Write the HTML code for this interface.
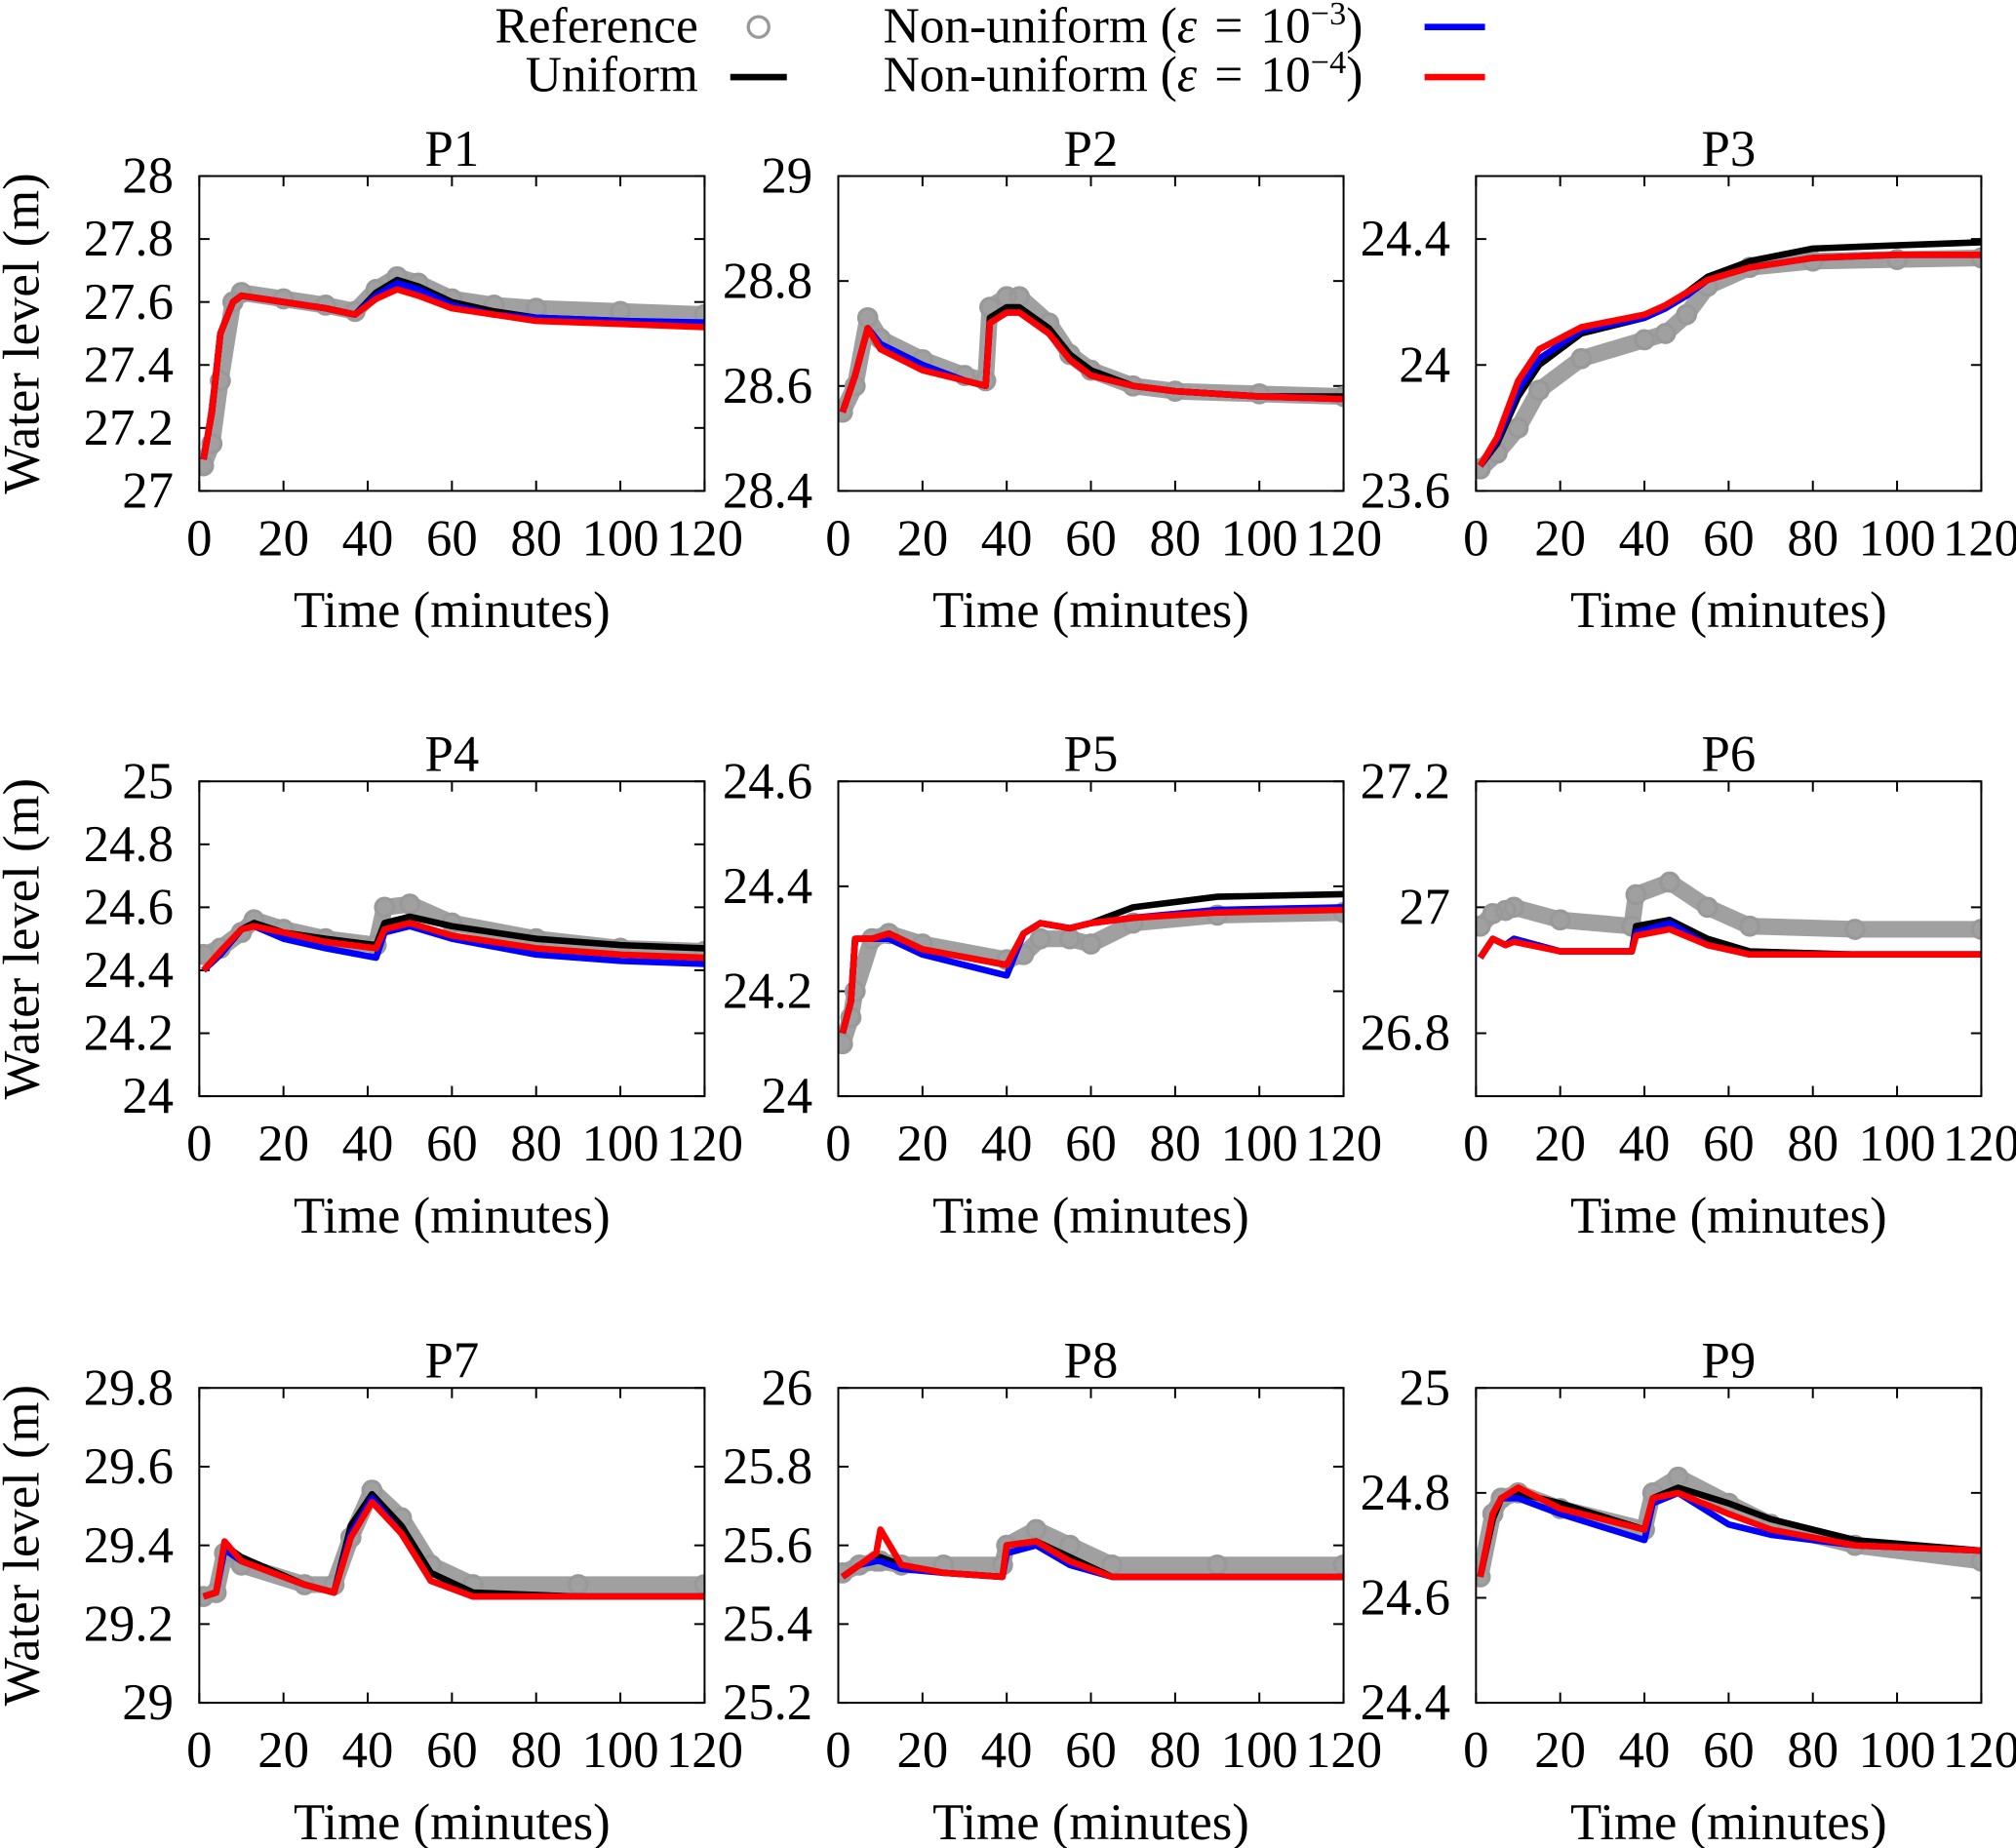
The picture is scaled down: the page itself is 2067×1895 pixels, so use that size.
<!DOCTYPE html>
<html><head><meta charset="utf-8"><style>
html,body{margin:0;padding:0;background:#fff}
svg{display:block}
text{font-family:"Liberation Serif",serif;fill:#000}
</style></head><body>
<svg id="chart" width="2067" height="1895" viewBox="0 0 1568 1438" preserveAspectRatio="none" xmlns="http://www.w3.org/2000/svg">
<g id="legend">
 <text x="543" y="33" text-anchor="end" font-size="39">Reference</text>
 <circle cx="590" cy="21" r="8" fill="none" stroke="#999" stroke-width="2.5"/>
 <text x="543" y="71" text-anchor="end" font-size="39">Uniform</text>
 <line x1="568" y1="60" x2="612" y2="60" stroke="#000" stroke-width="5"/>
 <text x="687" y="33" font-size="39">Non-uniform (<tspan font-style="italic">ε</tspan> <tspan dx="4">=</tspan> <tspan dx="4">10</tspan><tspan dy="-14" font-size="26">−3</tspan><tspan dy="14">)</tspan></text>
 <line x1="1108" y1="21" x2="1155" y2="21" stroke="#0000ff" stroke-width="5"/>
 <text x="687" y="71" font-size="39">Non-uniform (<tspan font-style="italic">ε</tspan> <tspan dx="4">=</tspan> <tspan dx="4">10</tspan><tspan dy="-14" font-size="26">−4</tspan><tspan dy="14">)</tspan></text>
 <line x1="1108" y1="60" x2="1155" y2="60" stroke="#ff0000" stroke-width="5"/>
</g>
</svg>
<script>
// ---- data ----
const panelNames = ["P1","P2","P3","P4","P5","P6","P7","P8","P9"];
const yMins = [27,28.4,23.6,24,24,26.7,29,25.2,24.4];
const yMaxs = [28,29,24.6,25,24.6,27.2,29.8,26,25];
const yTickLabels = [
 ["27","27.2","27.4","27.6","27.8","28"],
 ["28.4","28.6","28.8","29"],
 ["23.6","24","24.4"],
 ["24","24.2","24.4","24.6","24.8","25"],
 ["24","24.2","24.4","24.6"],
 ["26.8","27","27.2"],
 ["29","29.2","29.4","29.6","29.8"],
 ["25.2","25.4","25.6","25.8","26"],
 ["24.4","24.6","24.8","25"]
];
const xTickLabels = ["0","20","40","60","80","100","120"];

const times = [
 [1,3,5,8,10,20,30,37,42,47,52,60,70,80,100,120],
 [1,4,7,10,20,30,35,36,40,43,50,55,60,70,80,100,120],
 [1,5,10,15,25,40,45,50,55,65,80,100,120],
 [1,5,10,13,20,30,42,44,50,60,80,100,120],
 [1,3,4,8,12,20,40,44,48,55,60,70,90,120],
 [1,4,7,9,20,37,38,46,55,65,90,120],
 [1,4,6,10,25,32,36,41,48,55,65,90,120],
 [1,5,9,10,15,25,39,40,47,55,65,90,120],
 [1,4,6,10,20,40,42,48,60,70,90,120]
];
const refSeries = [
 [27.08,27.15,27.35,27.6,27.63,27.61,27.59,27.57,27.64,27.68,27.66,27.61,27.59,27.58,27.57,27.56],
 [28.55,28.6,28.73,28.69,28.65,28.62,28.61,28.75,28.77,28.77,28.72,28.66,28.63,28.6,28.59,28.585,28.58],
 [23.67,23.72,23.8,23.92,24.02,24.08,24.1,24.16,24.25,24.31,24.33,24.335,24.34],
 [24.45,24.47,24.52,24.56,24.53,24.5,24.48,24.6,24.61,24.55,24.5,24.47,24.46],
 [24.1,24.15,24.2,24.3,24.31,24.29,24.26,24.27,24.3,24.3,24.29,24.33,24.345,24.35],
 [26.97,26.99,26.995,27.0,26.98,26.97,27.02,27.04,27.0,26.97,26.965,26.965],
 [29.27,29.28,29.38,29.35,29.3,29.3,29.42,29.54,29.47,29.35,29.3,29.3,29.3],
 [25.53,25.55,25.56,25.56,25.55,25.55,25.55,25.6,25.64,25.6,25.55,25.55,25.55],
 [24.64,24.76,24.79,24.8,24.77,24.73,24.8,24.83,24.78,24.74,24.7,24.67]
];
const uniformSeries = [
 [27.1,27.25,27.5,27.6,27.62,27.6,27.58,27.56,27.63,27.67,27.65,27.6,27.57,27.55,27.54,27.53],
 [28.55,28.62,28.71,28.68,28.64,28.61,28.6,28.73,28.75,28.75,28.71,28.66,28.63,28.6,28.59,28.58,28.58],
 [23.68,23.75,23.9,24.0,24.1,24.15,24.18,24.23,24.28,24.33,24.37,24.38,24.39],
 [24.4,24.45,24.53,24.55,24.52,24.5,24.48,24.55,24.57,24.54,24.5,24.48,24.47],
 [24.12,24.18,24.3,24.3,24.31,24.28,24.25,24.31,24.33,24.32,24.33,24.36,24.38,24.385],
 [26.92,26.95,26.94,26.95,26.93,26.93,26.97,26.98,26.95,26.93,26.925,26.925],
 [29.27,29.28,29.4,29.37,29.3,29.28,29.45,29.53,29.45,29.33,29.28,29.27,29.27],
 [25.52,25.55,25.57,25.57,25.55,25.53,25.52,25.6,25.61,25.57,25.52,25.52,25.52],
 [24.64,24.75,24.79,24.8,24.78,24.73,24.79,24.81,24.78,24.75,24.71,24.69]
];
const nonuni3Series = [
 [27.1,27.25,27.5,27.6,27.62,27.6,27.58,27.56,27.62,27.66,27.64,27.59,27.56,27.55,27.54,27.535],
 [28.55,28.62,28.71,28.68,28.64,28.61,28.6,28.72,28.74,28.74,28.7,28.65,28.62,28.6,28.59,28.58,28.575],
 [23.68,23.76,23.92,24.02,24.11,24.15,24.18,24.22,24.27,24.31,24.34,24.35,24.35],
 [24.4,24.45,24.53,24.54,24.5,24.47,24.44,24.52,24.54,24.5,24.45,24.43,24.42],
 [24.12,24.18,24.3,24.3,24.3,24.27,24.23,24.31,24.33,24.32,24.33,24.34,24.355,24.36],
 [26.92,26.95,26.94,26.95,26.93,26.93,26.96,26.975,26.94,26.925,26.925,26.925],
 [29.27,29.28,29.39,29.36,29.3,29.28,29.43,29.52,29.43,29.31,29.27,29.27,29.27],
 [25.52,25.55,25.56,25.56,25.54,25.53,25.52,25.58,25.6,25.55,25.52,25.52,25.52],
 [24.64,24.76,24.79,24.79,24.76,24.71,24.78,24.8,24.74,24.72,24.7,24.69]
];
const nonuni4Series = [
 [27.1,27.25,27.5,27.6,27.62,27.6,27.58,27.56,27.61,27.64,27.62,27.58,27.56,27.54,27.53,27.52],
 [28.55,28.62,28.71,28.67,28.63,28.61,28.6,28.72,28.74,28.74,28.7,28.65,28.62,28.6,28.59,28.58,28.575],
 [23.68,23.77,23.95,24.05,24.12,24.16,24.19,24.23,24.27,24.31,24.34,24.35,24.35],
 [24.4,24.46,24.53,24.54,24.52,24.49,24.47,24.53,24.55,24.51,24.47,24.45,24.44],
 [24.12,24.18,24.3,24.3,24.31,24.28,24.25,24.31,24.33,24.32,24.33,24.34,24.35,24.355],
 [26.92,26.95,26.94,26.945,26.93,26.93,26.955,26.965,26.94,26.925,26.925,26.925],
 [29.27,29.28,29.41,29.36,29.3,29.28,29.42,29.51,29.43,29.31,29.27,29.27,29.27],
 [25.52,25.55,25.58,25.64,25.55,25.53,25.52,25.6,25.61,25.56,25.52,25.52,25.52],
 [24.64,24.76,24.79,24.81,24.77,24.73,24.79,24.8,24.76,24.73,24.7,24.69]
];

// ---- layout ----
const colX = [155,652,1148], rowY = [137,608,1080], PW = 393, PH = 245;
const NS = "http://www.w3.org/2000/svg";
const svg = document.getElementById("chart");
function mk(tag, attrs, parent){ const e=document.createElementNS(NS,tag); for(const k in attrs) e.setAttribute(k,attrs[k]); (parent||svg).appendChild(e); return e; }

panelNames.forEach((name,i)=>{
 const x0 = colX[i%3], y0 = rowY[Math.floor(i/3)];
 const g = mk("g",{});
 
 
 const xs = t => x0 + t/120*PW;
 const ys = v => y0 + PH - (v - yMins[i])/(yMaxs[i]-yMins[i])*PH;
 const clip = mk("clipPath",{id:"c"+i},g);
 mk("rect",{x:x0,y:y0,width:PW,height:PH},clip);
 const tt = mk("text",{x:x0+PW/2,y:y0-8,"text-anchor":"middle","font-size":40},g);
 tt.textContent = name;
 
 
 xTickLabels.forEach(l=>{
  const v=+l, X=xs(v);
  mk("line",{x1:X,y1:y0+PH,x2:X,y2:y0+PH-8,stroke:"#000","stroke-width":1.5},g);
  mk("line",{x1:X,y1:y0,x2:X,y2:y0+8,stroke:"#000","stroke-width":1.5},g);
  const t=mk("text",{x:X,y:y0+PH+50,"text-anchor":"middle","font-size":40},g);
  t.textContent=l;
  
  
 });
 const xt=mk("text",{x:x0+PW/2,y:y0+PH+106,"text-anchor":"middle","font-size":40},g);
 xt.textContent="Time (minutes)";
 
 
 yTickLabels[i].forEach(l=>{
  const Y=ys(+l);
  mk("line",{x1:x0,y1:Y,x2:x0+8,y2:Y,stroke:"#000","stroke-width":1.5},g);
  mk("line",{x1:x0+PW,y1:Y,x2:x0+PW-8,y2:Y,stroke:"#000","stroke-width":1.5},g);
  const t=mk("text",{x:x0-20,y:Y+13,"text-anchor":"end","font-size":40},g);
  t.textContent=l;
  
  
 });
 if(i%3===0){
  const yt=mk("text",{x:0,y:0,"text-anchor":"middle","font-size":40,transform:`translate(30,${y0+PH/2}) rotate(-90)`},g);
  yt.textContent="Water level (m)";
  
  
 }
 const pts = s => times[i].map((t,k)=>xs(t).toFixed(1)+","+ys(s[k]).toFixed(1)).join(" ");
 const dg = mk("g",{"clip-path":`url(#c${i})`},g);
 const rl = mk("polyline",{points:pts(refSeries[i]),fill:"none",stroke:"#a0a0a0","stroke-width":13,"stroke-linejoin":"round","stroke-linecap":"round"},dg);
 
 
 times[i].forEach((t,k)=>{
  const c=mk("circle",{cx:xs(t),cy:ys(refSeries[i][k]),r:7,fill:"none",stroke:"#999","stroke-width":2.5},dg);
  
  
 });
 [[uniformSeries,"#000","uniform-series"],[nonuni3Series,"#0000ff","nonuniform-3-series"],[nonuni4Series,"#ff0000","nonuniform-4-series"]].forEach(([s,col,nm])=>{
  const p=mk("polyline",{points:pts(s[i]),fill:"none",stroke:col,"stroke-width":5,"stroke-linejoin":"round"},dg);
  
  
 });
 const fr=mk("rect",{x:x0,y:y0,width:PW,height:PH,fill:"none",stroke:"#000","stroke-width":1.5},g);
 
 
});
</script>
</body></html>
